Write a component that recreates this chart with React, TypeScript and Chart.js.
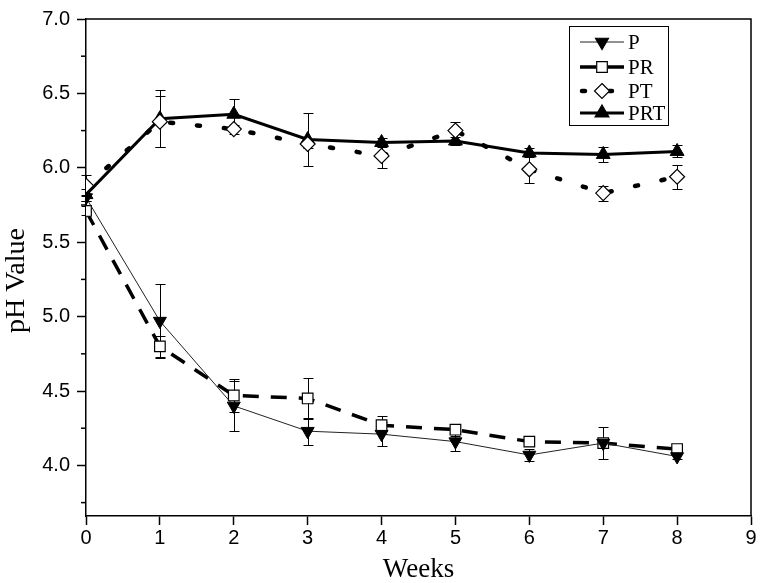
import React, { useEffect, useRef } from "react";
import { Chart, registerables } from "chart.js";

Chart.register(...registerables);

const weeks = [0, 1, 2, 3, 4, 5, 6, 7, 8];
const xTicks = [0, 1, 2, 3, 4, 5, 6, 7, 8, 9];
const yTicks = [4.0, 4.5, 5.0, 5.5, 6.0, 6.5, 7.0];
const yMinorTicks = [3.75, 4.25, 4.75, 5.25, 5.75, 6.25, 6.75];
const yTitle = "pH Value";
const xTitle = "Weeks";

const seriesLabels = ["P", "PR", "PT", "PRT"];
const pValues = [5.8, 4.97, 4.4, 4.23, 4.21, 4.16, 4.07, 4.15, 4.06];
const pErrors = [0.02, 0.25, 0.17, 0.09, 0.08, 0.06, 0.04, 0.11, 0.02];
const prValues = [5.71, 4.8, 4.47, 4.45, 4.27, 4.24, 4.16, 4.15, 4.11];
const prErrors = [0.03, 0.07, 0.11, 0.14, 0.06, 0.04, 0.03, 0.03, 0.02];
const ptValues = [5.88, 6.31, 6.26, 6.16, 6.08, 6.25, 5.99, 5.83, 5.94];
const ptErrors = [0.07, 0.17, 0.03, 0.03, 0.08, 0.06, 0.09, 0.05, 0.08];
const prtValues = [5.82, 6.33, 6.36, 6.19, 6.17, 6.18, 6.1, 6.09, 6.11];
const prtErrors = [0.04, 0.19, 0.1, 0.18, 0.03, 0.03, 0.03, 0.05, 0.04];

const allValues = [pValues, prValues, ptValues, prtValues];
const allErrors = [pErrors, prErrors, ptErrors, prtErrors];

function drawMarker(ctx: CanvasRenderingContext2D, style: string, rotation: number, r: number, x: number, y: number, fill: string) {
  ctx.save();
  ctx.beginPath();
  if (style === "triangle") {
    let rad = (rotation * Math.PI) / 180;
    ctx.moveTo(x + Math.sin(rad) * r, y - Math.cos(rad) * r);
    rad += (2 * Math.PI) / 3;
    ctx.lineTo(x + Math.sin(rad) * r, y - Math.cos(rad) * r);
    rad += (2 * Math.PI) / 3;
    ctx.lineTo(x + Math.sin(rad) * r, y - Math.cos(rad) * r);
    ctx.closePath();
  } else if (style === "rect") {
    const s = Math.SQRT1_2 * r;
    ctx.rect(x - s, y - s, 2 * s, 2 * s);
  } else {
    ctx.moveTo(x, y - r);
    ctx.lineTo(x + r, y);
    ctx.lineTo(x, y + r);
    ctx.lineTo(x - r, y);
    ctx.closePath();
  }
  ctx.fillStyle = fill;
  ctx.fill();
  ctx.strokeStyle = "#000";
  ctx.lineWidth = 1.2;
  ctx.stroke();
  ctx.restore();
}

const errorBarPlugin = {
  id: "errorBars",
  beforeDatasetsDraw(chart: any) {
    const ctx = chart.ctx;
    const xs = chart.scales.x;
    const ys = chart.scales.y;
    ctx.save();
    ctx.strokeStyle = "#000";
    ctx.lineWidth = 1;
    allValues.forEach((vals, i) => {
      const errs = allErrors[i];
      vals.forEach((v, j) => {
        const px = Math.round(xs.getPixelForValue(weeks[j])) + 0.5;
        const top = Math.round(ys.getPixelForValue(v + errs[j])) + 0.5;
        const bot = Math.round(ys.getPixelForValue(v - errs[j])) + 0.5;
        ctx.beginPath();
        ctx.moveTo(px, top);
        ctx.lineTo(px, bot);
        ctx.moveTo(px - 5, top);
        ctx.lineTo(px + 5, top);
        ctx.moveTo(px - 5, bot);
        ctx.lineTo(px + 5, bot);
        ctx.stroke();
      });
    });
    ctx.restore();
  },
};

const framePlugin = {
  id: "frame",
  afterDraw(chart: any) {
    const ctx = chart.ctx;
    const a = chart.chartArea;
    const ys = chart.scales.y;
    ctx.save();
    ctx.strokeStyle = "#000";
    ctx.lineWidth = 1.5;
    ctx.beginPath();
    ctx.moveTo(a.left, a.top);
    ctx.lineTo(a.right, a.top);
    ctx.lineTo(a.right, a.bottom);
    ctx.stroke();
    yMinorTicks.forEach((v) => {
      const py = ys.getPixelForValue(v);
      ctx.beginPath();
      ctx.moveTo(a.left - 5, py);
      ctx.lineTo(a.left, py);
      ctx.stroke();
    });
    ctx.restore();

    // y axis title
    ctx.save();
    ctx.translate(17, (a.top + a.bottom) / 2 + 13);
    ctx.rotate(-Math.PI / 2);
    ctx.fillStyle = "#000";
    ctx.font = "28px 'Liberation Serif'";
    ctx.textAlign = "center";
    ctx.textBaseline = "middle";
    ctx.fillText(yTitle, 0, 0);
    ctx.restore();

    // legend
    ctx.save();
    const bx = a.right - 182;
    const by = a.top + 7;
    ctx.strokeStyle = "#000";
    ctx.lineWidth = 1;
    ctx.strokeRect(bx + 0.5, by + 0.5, 99, 99);
    const rowY = [by + 16, by + 41, by + 65, by + 87];
    chart.data.datasets.forEach((ds: any, i: number) => {
      const y = rowY[i];
      ctx.save();
      ctx.strokeStyle = ds.borderColor;
      ctx.lineWidth = ds.borderWidth;
      ctx.lineCap = ds.borderCapStyle || "butt";
      ctx.setLineDash(ds.borderDash || []);
      ctx.beginPath();
      if (i === 2) {
        ctx.moveTo(bx + 13, y);
        ctx.lineTo(bx + 43, y);
      } else {
        ctx.moveTo(bx + 11, y);
        ctx.lineTo(bx + 55, y);
      }
      ctx.stroke();
      ctx.restore();
      drawMarker(ctx, ds.pointStyle, ds.pointRotation || 0, ds.pointRadius, bx + 33, y, ds.pointBackgroundColor);
      ctx.fillStyle = "#000";
      ctx.font = "21px 'Liberation Serif'";
      ctx.textBaseline = "middle";
      ctx.textAlign = "left";
      ctx.fillText(ds.label, bx + 59, y + 1);
    });
    ctx.restore();
  },
};

export default function App() {
  const ref = useRef<HTMLCanvasElement | null>(null);
  useEffect(() => {
    if (!ref.current) return;
    const mk = (vals: number[]) => vals.map((v, i) => ({ x: weeks[i], y: v }));
    const chart = new Chart(ref.current, {
      type: "line",
      data: {
        datasets: [
          {
            label: seriesLabels[0],
            data: mk(pValues) as any,
            borderColor: "#222",
            borderWidth: 1,
            pointStyle: "triangle",
            pointRotation: 180,
            pointRadius: 7.5,
            pointBackgroundColor: "#000",
            pointBorderColor: "#000",
            pointBorderWidth: 1,
          } as any,
          {
            label: seriesLabels[1],
            data: mk(prValues) as any,
            borderColor: "#000",
            borderWidth: 3.5,
            borderDash: [16, 12],
            pointStyle: "rect",
            pointRadius: 7.5,
            pointBackgroundColor: "#fff",
            pointBorderColor: "#000",
            pointBorderWidth: 1.2,
          } as any,
          {
            label: seriesLabels[2],
            data: mk(ptValues) as any,
            borderColor: "#000",
            borderWidth: 4.5,
            borderDash: [3, 24],
            borderCapStyle: "round",
            pointStyle: "rectRot",
            pointRadius: 7.5,
            pointBackgroundColor: "#fff",
            pointBorderColor: "#000",
            pointBorderWidth: 1.2,
          } as any,
          {
            label: seriesLabels[3],
            data: mk(prtValues) as any,
            borderColor: "#000",
            borderWidth: 3,
            pointStyle: "triangle",
            pointRadius: 8,
            pointBackgroundColor: "#000",
            pointBorderColor: "#000",
            pointBorderWidth: 1,
          } as any,
        ],
      },
      options: {
        responsive: false,
        animation: false,
        layout: { padding: { top: 15, right: 9, left: 0, bottom: 0 } },
        plugins: { legend: { display: false }, tooltip: { enabled: false } },
        scales: {
          x: {
            type: "linear",
            min: 0,
            max: 9,
            afterBuildTicks: (s: any) => {
              s.ticks = xTicks.map((v) => ({ value: v }));
            },
            afterFit: (s: any) => {
              s.height = 67;
            },
            border: { display: true, color: "#000", width: 1.5 },
            grid: { drawOnChartArea: false, drawTicks: true, tickLength: 9, tickColor: "#000", tickWidth: 1.5 },
            ticks: {
              color: "#000",
              font: { family: "'Liberation Sans'", size: 20 },
              padding: 1,
              maxRotation: 0,
              callback: (v: any) => String(v),
            },
            title: {
              display: true,
              text: xTitle,
              color: "#000",
              font: { family: "'Liberation Serif'", size: 27, lineHeight: 1 },
              padding: { top: 0, bottom: 0 },
            },
          },
          y: {
            type: "linear",
            min: 3.66,
            max: 7.0,
            afterBuildTicks: (s: any) => {
              s.ticks = yTicks.map((v) => ({ value: v }));
            },
            afterFit: (s: any) => {
              s.width = 86;
            },
            border: { display: true, color: "#000", width: 1.5 },
            grid: { drawOnChartArea: false, drawTicks: true, tickLength: 9, tickColor: "#000", tickWidth: 1.5 },
            ticks: {
              color: "#000",
              font: { family: "'Liberation Sans'", size: 20 },
              padding: 7,
              callback: (v: any) => Number(v).toFixed(1),
            },
            title: { display: false },
          },
        },
      } as any,
      plugins: [errorBarPlugin, framePlugin],
    });
    return () => chart.destroy();
  }, []);

  return (
    <div style={{ position: "absolute", left: 0, top: 0, width: 760, height: 583, background: "#fff" }}>
      <canvas ref={ref} width={760} height={583} />
    </div>
  );
}
